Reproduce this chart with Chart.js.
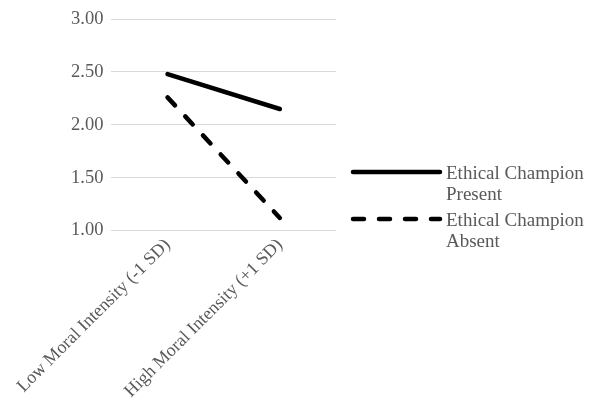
<!DOCTYPE html>
<html>
<head>
<meta charset="utf-8">
<script src="https://cdn.jsdelivr.net/npm/chart.js@4"></script>
<style>
    html, body { margin: 0; padding: 0; background: #fff; }
    #wrap { width: 590px; height: 406px; position: relative; }
</style>
</head>
<body>
<div id="wrap"><canvas id="slopeChart"></canvas></div>
<script>
// 資料
const categories = ['Low Moral Intensity (-1 SD)', 'High Moral Intensity (+1 SD)'];
const seriesNames = [['Ethical Champion', 'Present'], ['Ethical Champion', 'Absent']];
const championPresent = [2.48, 2.15];
const championAbsent = [2.26, 1.12];
const yTicks = [1.00, 1.50, 2.00, 2.50, 3.00];

const textColor = '#595959';
const fontFamily = "'Liberation Serif', 'Times New Roman', serif";

// 右側圖例（多行文字）
const sideLegend = {
    id: 'sideLegend',
    afterDraw(chart) {
        const ctx = chart.ctx;
        const x0 = 353, x1 = 440;
        const rows = [172, 219];
        ctx.save();
        chart.data.datasets.forEach((ds, i) => {
            const y = rows[i];
            ctx.beginPath();
            ctx.strokeStyle = ds.borderColor;
            ctx.lineWidth = ds.borderWidth;
            ctx.lineCap = 'round';
            ctx.setLineDash(ds.borderDash || []);
            ctx.moveTo(x0, y);
            ctx.lineTo(x1, y);
            ctx.stroke();
            ctx.setLineDash([]);
            ctx.fillStyle = textColor;
            ctx.font = '19px ' + fontFamily;
            ctx.textBaseline = 'middle';
            ds.label.forEach((line, j) => {
                ctx.fillText(line, 446, y + 2 + j * 21);
            });
        });
        ctx.restore();
    }
};

new Chart(document.getElementById('slopeChart'), {
    type: 'line',
    data: {
        labels: categories,
        datasets: [{
            label: seriesNames[0],
            data: championPresent,
            borderColor: '#000',
            borderWidth: 4.5,
            borderCapStyle: 'round',
            pointRadius: 0,
            fill: false
        }, {
            label: seriesNames[1],
            data: championAbsent,
            borderColor: '#000',
            borderWidth: 4.5,
            borderDash: [11, 15],
            borderCapStyle: 'round',
            pointRadius: 0,
            fill: false
        }]
    },
    options: {
        responsive: true,
        maintainAspectRatio: false,
        animation: false,
        layout: {
            padding: { top: 3, right: 254, left: 63, bottom: 0 }
        },
        plugins: {
            legend: { display: false },
            tooltip: { enabled: false }
        },
        scales: {
            y: {
                min: 1,
                max: 3,
                afterBuildTicks: function (axis) {
                    axis.ticks = yTicks.map(v => ({ value: v }));
                },
                ticks: {
                    color: textColor,
                    font: { size: 18.5, family: fontFamily },
                    padding: 8,
                    callback: function (value) {
                        return Number(value).toFixed(2);
                    }
                },
                grid: {
                    color: '#d9d9d9',
                    lineWidth: 1,
                    drawTicks: false
                },
                border: { display: false }
            },
            x: {
                offset: true,
                afterFit: function (axis) {
                    // 斜排標籤可超出左側，不另留空
                    axis.paddingLeft = 0;
                    axis.paddingRight = 0;
                },
                ticks: {
                    color: textColor,
                    font: { size: 18, family: fontFamily },
                    maxRotation: 45,
                    minRotation: 45,
                    padding: 4
                },
                grid: { display: false, drawTicks: false },
                border: { display: false }
            }
        }
    },
    plugins: [sideLegend]
});
</script>
</body>
</html>
